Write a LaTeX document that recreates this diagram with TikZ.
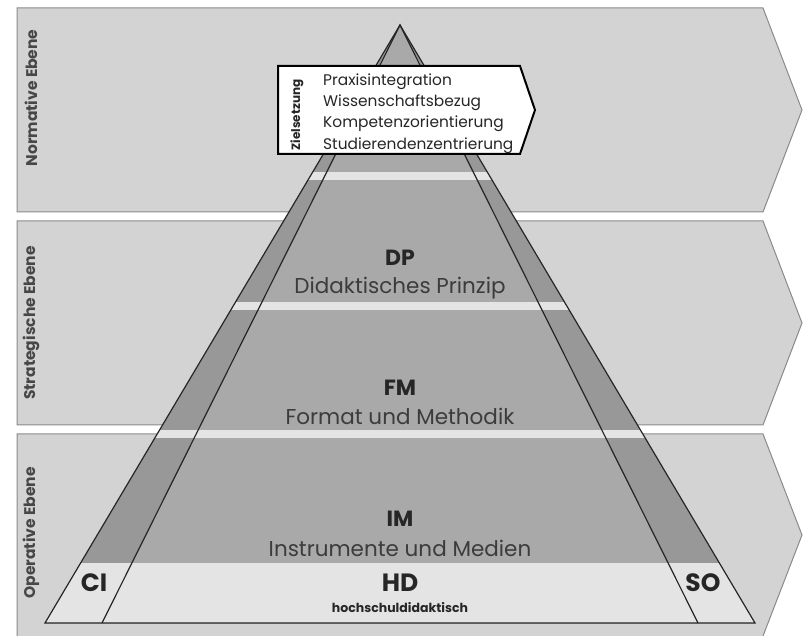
\documentclass[tikz,border=0pt]{standalone}
\usepackage{fontspec}
\setmainfont{Poppins}
\usepackage{xcolor}
\usetikzlibrary{positioning}
\definecolor{bandgrey}{HTML}{D3D3D3}
\definecolor{bandline}{HTML}{8A8A8A}
\definecolor{sidegrey}{HTML}{989898}
\definecolor{coregrey}{HTML}{A9A9A9}
\definecolor{stripegrey}{HTML}{E4E4E4}
\definecolor{inkgrey}{HTML}{262626}
\tikzset{
  band/.style={fill=bandgrey, draw=bandline, line width=1pt},
  levellabel/.style={rotate=90, text=inkgrey!85, inner sep=0pt,
              font=\fontsize{15.5}{17}\selectfont\bfseries},
  pyr/.style={draw=inkgrey, line width=1.2pt, line join=miter},
  abbr/.style={text=inkgrey, inner sep=0pt, font=\fontsize{22}{24}\selectfont\bfseries},
  fullname/.style={text=inkgrey!90, inner sep=0pt, font=\fontsize{21.5}{24}\selectfont},
  corner/.style={text=inkgrey, inner sep=0pt, font=\fontsize{25}{27}\selectfont\bfseries},
  goalsign/.style={fill=white, draw=black, line width=2pt, line join=miter},
  goalitem/.style={text=inkgrey, inner sep=0pt, anchor=west,
              font=\fontsize{15.4}{17}\selectfont},
}
\begin{document}
\begin{tikzpicture}[x=1pt, y=-1pt]
  \useasboundingbox (0,0) rectangle (807,636);
  % Ebenen
  \draw[band] (17,8) -- (763,8) -- (802,110) -- (763,212) -- (17,212) -- cycle;
  \draw[band] (17,221) -- (763,221) -- (802,323) -- (763,425) -- (17,425) -- cycle;
  \draw[band] (17,434) -- (763,434) -- (802,535) -- (763,636) -- (763,640) -- (17,640) -- cycle;
  \node[levellabel] (norm) at (31,98) {Normative Ebene};
  \node[levellabel] (strat) at (31,323) {Strategische Ebene};
  \node[levellabel] (oper) at (31,533) {Operative Ebene};
  % Pyramide
  \coordinate (apex) at (400,25);
  \coordinate (ol) at (45,623);
  \coordinate (or) at (755,623);
  \coordinate (il) at (102,623);
  \coordinate (ir) at (698,623);
  \fill[sidegrey] (apex) -- (ol) -- (or) -- cycle;
  \fill[coregrey] (apex) -- (il) -- (ir) -- cycle;
  \begin{scope}
    \clip (apex) -- (ol) -- (or) -- cycle;
    \foreach \y in {172,302,430}
      \fill[stripegrey] (0,\y) rectangle (807,\y+8);
    \fill[stripegrey] (0,563) rectangle (807,623);
  \end{scope}
  \draw[pyr] (apex) -- (ol) -- (or) -- cycle;
  \draw[pyr] (il) -- (apex) -- (ir);
  % Ebenen der Pyramide
  \node[abbr] (dp) at (400,258) {DP};
  \node[fullname] (dpname) at (400,288) {Didaktisches Prinzip};
  \node[abbr] (fm) at (400,388) {FM};
  \node[fullname] (fmname) at (400,416) {Format und Methodik};
  \node[abbr] (im) at (400,519) {IM};
  \node[fullname] (imname) at (400,548) {Instrumente und Medien};
  \node[corner] (hd) at (400,583) {HD};
  \node[text=inkgrey, inner sep=0pt, font=\fontsize{12.5}{14}\selectfont\bfseries] (hdname) at (400,608) {hochschuldidaktisch};
  \node[corner] (ci) at (94,583) {CI};
  \node[corner] (so) at (703,583) {SO};
  % Zielsetzung
  \draw[goalsign] (278,66) -- (520,66) -- (535,110) -- (520,154) -- (278,154) -- cycle;
  \node[rotate=90, inner sep=0pt, text=inkgrey, font=\fontsize{12}{14}\selectfont\bfseries] (ziel) at (297,115) {Zielsetzung};
  \node[goalitem] (z1) at (323,82) {Praxisintegration};
  \node[goalitem] (z2) at (323,103) {Wissenschaftsbezug};
  \node[goalitem] (z3) at (323,124) {Kompetenzorientierung};
  \node[goalitem] (z4) at (323,146) {Studierendenzentrierung};
\end{tikzpicture}
\end{document}
